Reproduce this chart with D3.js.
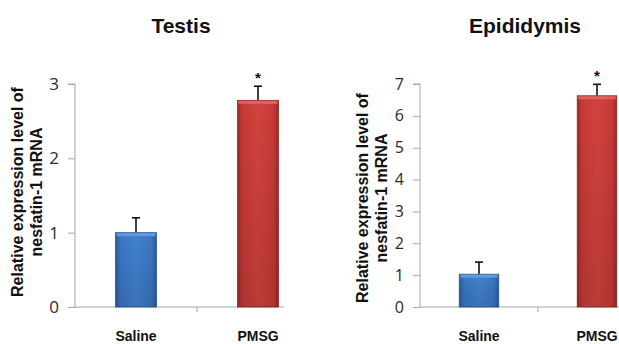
<!DOCTYPE html>
<html>
<head>
<meta charset="utf-8">
<script src="https://cdn.jsdelivr.net/npm/d3@7"></script>
<style>
  html, body { margin: 0; padding: 0; background: #fff; }
  svg { display: block; }
</style>
</head>
<body>
<svg id="chart" width="619" height="344"></svg>
<script>
// ---- data ----
const categories = ["Saline", "PMSG"];
const testisValues = [1.0, 2.78];
const testisErrors = [0.2, 0.19];
const epididymisValues = [1.03, 6.63];
const epididymisErrors = [0.38, 0.36];
const testisTicks = [0, 1, 2, 3];
const epididymisTicks = [0, 1, 2, 3, 4, 5, 6, 7];
const significant = [false, true];
const titles = ["Testis", "Epididymis"];
const yLabelLines = ["Relative expression level of", "nesfatin-1 mRNA"];

const svg = d3.select("#chart");
const defs = svg.append("defs");

function makeGrad(id, edge, mid, light) {
  const g = defs.append("linearGradient").attr("id", id)
    .attr("x1", "0%").attr("x2", "100%").attr("y1", "0%").attr("y2", "0%");
  g.append("stop").attr("offset", "0%").attr("stop-color", edge);
  g.append("stop").attr("offset", "12%").attr("stop-color", mid);
  g.append("stop").attr("offset", "50%").attr("stop-color", light);
  g.append("stop").attr("offset", "88%").attr("stop-color", mid);
  g.append("stop").attr("offset", "100%").attr("stop-color", edge);
}
makeGrad("gBlue", "#2a5a9c", "#3a76c4", "#4282d0");
makeGrad("gRed", "#9e2a27", "#c63a37", "#d2433f");
const vshade = defs.append("linearGradient").attr("id", "vShade")
  .attr("x1", "0%").attr("x2", "0%").attr("y1", "0%").attr("y2", "100%");
vshade.append("stop").attr("offset", "0%").attr("stop-color", "#000").attr("stop-opacity", 0);
vshade.append("stop").attr("offset", "100%").attr("stop-color", "#000").attr("stop-opacity", 0.12);

const fills = ["url(#gBlue)", "url(#gRed)"];
const strokes = ["#2a5590", "#8e2522"];
const tops = ["#6aa0e0", "#e06a66"];

function drawChart(cfg) {
  const g = svg.append("g");
  const x = d3.scaleBand().domain(categories).range(cfg.xRange).padding(0);
  const y = d3.scaleLinear().domain(cfg.yDomain).range(cfg.yRange);
  const bw = x.bandwidth() * 0.335;
  const x0 = cfg.xRange[0];

  // title
  g.append("text").attr("x", cfg.titleX).attr("y", 33)
    .attr("text-anchor", "middle")
    .attr("font-family", "Liberation Sans, Arial, sans-serif")
    .attr("font-weight", "bold").attr("font-size", 21)
    .attr("fill", "#111").text(cfg.title);

  // y axis
  const yAxis = d3.axisLeft(y).tickValues(cfg.ticks).tickSize(7).tickPadding(cfg.tickPad)
    .tickFormat(d3.format("d"));
  const ya = g.append("g").attr("transform", `translate(${x0},0)`).call(yAxis);
  ya.select(".domain").attr("stroke", "#a6a6a6").attr("d", `M-7,${y(cfg.yDomain[1])}H0V${y(0) + 1}`);
  ya.selectAll(".tick line").attr("stroke", "#a6a6a6");
  ya.selectAll(".tick text")
    .attr("font-family", "Open Sans, Liberation Sans, sans-serif")
    .attr("font-size", cfg.tickFont).attr("fill", "#2a2a2a");

  // x axis
  const xa = g.append("g").attr("transform", `translate(0,${y(0)})`);
  xa.append("line").attr("x1", x0).attr("x2", cfg.axisEnd)
    .attr("y1", 0).attr("y2", 0).attr("stroke", "#a6a6a6");
  xa.append("line").attr("x1", x(categories[1])).attr("x2", x(categories[1]))
    .attr("y1", 0).attr("y2", 5).attr("stroke", "#a6a6a6");
  xa.selectAll("text.cat").data(categories).join("text").attr("class", "cat")
    .attr("x", d => x(d) + x.bandwidth() / 2).attr("y", 340.5 - y(0))
    .attr("text-anchor", "middle")
    .attr("font-family", "Liberation Sans, Arial, sans-serif")
    .attr("font-weight", "bold").attr("font-size", 14).attr("fill", "#111")
    .text(d => d);

  // y label
  const ly = g.append("text")
    .attr("transform", `translate(${cfg.labelX},${cfg.labelY}) rotate(-90)`)
    .attr("text-anchor", "middle")
    .attr("font-family", "Liberation Sans, Arial, sans-serif")
    .attr("font-weight", "bold").attr("font-size", 16).attr("fill", "#111");
  yLabelLines.forEach((t, i) => {
    ly.append("tspan").attr("x", 0).attr("dy", i === 0 ? 0 : 19).text(t);
  });

  const data = categories.map((c, i) => ({ c, i, v: cfg.values[i], e: cfg.errors[i], s: significant[i] }));

  // error bars
  const eb = g.selectAll("g.err").data(data).join("g").attr("class", "err");
  eb.append("line")
    .attr("x1", d => x(d.c) + x.bandwidth() / 2).attr("x2", d => x(d.c) + x.bandwidth() / 2)
    .attr("y1", d => y(d.v)).attr("y2", d => y(d.v + d.e))
    .attr("stroke", "#111").attr("stroke-width", 1.6);
  eb.append("line")
    .attr("x1", d => x(d.c) + x.bandwidth() / 2 - 4).attr("x2", d => x(d.c) + x.bandwidth() / 2 + 4)
    .attr("y1", d => y(d.v + d.e)).attr("y2", d => y(d.v + d.e))
    .attr("stroke", "#111").attr("stroke-width", 1.6);

  // bars
  const bars = g.selectAll("g.bar").data(data).join("g").attr("class", "bar");
  bars.append("rect")
    .attr("x", d => x(d.c) + (x.bandwidth() - bw) / 2)
    .attr("y", d => y(d.v)).attr("width", bw)
    .attr("height", d => y(0) - y(d.v))
    .attr("fill", d => fills[d.i]).attr("stroke", d => strokes[d.i]).attr("stroke-width", 0.8);
  bars.append("rect")
    .attr("x", d => x(d.c) + (x.bandwidth() - bw) / 2)
    .attr("y", d => y(d.v)).attr("width", bw)
    .attr("height", d => y(0) - y(d.v))
    .attr("fill", "url(#vShade)");
  bars.append("rect")
    .attr("x", d => x(d.c) + (x.bandwidth() - bw) / 2 + 1)
    .attr("y", d => y(d.v) + 0.5).attr("width", bw - 2).attr("height", 3)
    .attr("fill", d => tops[d.i]).attr("opacity", 0.85);

  // significance stars
  g.selectAll("text.star").data(data.filter(d => d.s)).join("text").attr("class", "star")
    .attr("x", d => x(d.c) + x.bandwidth() / 2)
    .attr("y", d => y(d.v + d.e) - 3)
    .attr("text-anchor", "middle")
    .attr("font-family", "Liberation Sans, Arial, sans-serif")
    .attr("font-weight", "bold").attr("font-size", 15).attr("fill", "#111")
    .text("*");
}

drawChart({
  title: titles[0], titleX: 181,
  values: testisValues, errors: testisErrors, ticks: testisTicks,
  xRange: [75, 319], axisEnd: 284,
  yDomain: [0, 3], yRange: [307, 84],
  tickFont: 17, tickPad: 9, labelX: 23, labelY: 192
});
drawChart({
  title: titles[1], titleX: 525,
  values: epididymisValues, errors: epididymisErrors, ticks: epididymisTicks,
  xRange: [420, 656], axisEnd: 640,
  yDomain: [0, 7], yRange: [307, 84],
  tickFont: 16, tickPad: 9, labelX: 368, labelY: 198
});
</script>
</body>
</html>
